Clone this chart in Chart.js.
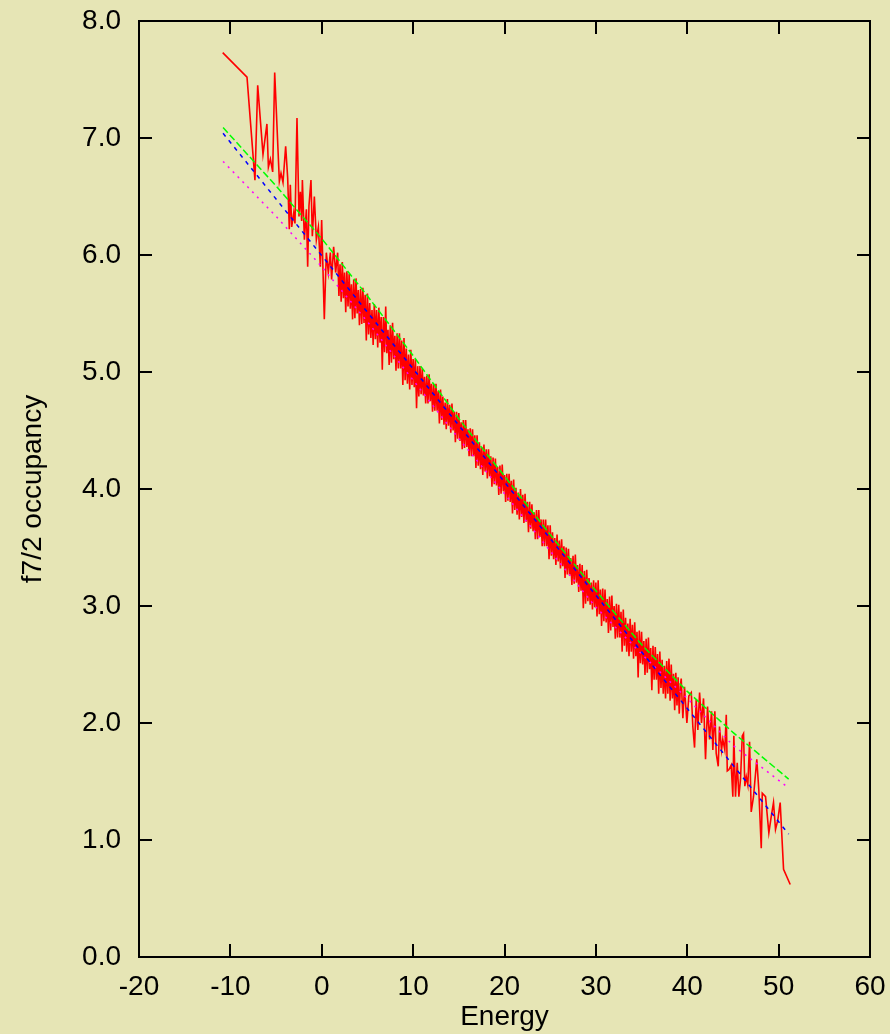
<!DOCTYPE html>
<html>
<head>
<meta charset="utf-8">
<script src="https://cdn.jsdelivr.net/npm/chart.js@4.4.0/dist/chart.umd.min.js"></script>
<style>
  html, body { margin: 0; padding: 0; background: #e6e5b5; }
  #wrap { width: 890px; height: 1034px; }
</style>
</head>
<body>
<div id="wrap"><canvas id="occChart" width="890" height="1034"></canvas></div>
<script>
// tick labels
const xTickValues = [-20, -10, 0, 10, 20, 30, 40, 50, 60];
const yTickValues = [0, 1, 2, 3, 4, 5, 6, 7, 8];
const yTickLabels = ["0.0", "1.0", "2.0", "3.0", "4.0", "5.0", "6.0", "7.0", "8.0"];

// red: measured occupancy vs energy
const redEnergy = [
  -10.84, -8.18, -7.31, -7.01, -6.43, -6.00, -5.84, -5.62, -5.37, -5.15,
  -4.64, -4.46, -4.24, -3.95, -3.73, -3.55, -3.44, -3.29, -3.07, -2.93,
  -2.71, -2.49, -2.34, -2.20, -2.12, -1.90, -1.68, -1.54, -1.40, -1.18,
  -1.03, -0.81, -0.59, -0.37, -0.15, -0.01, 0.28, 0.50, 0.72, 0.94,
  1.08, 1.30, 1.52, 1.74, 1.88,
  2.000, 2.125, 2.250, 2.375, 2.500, 2.625, 2.750, 2.875,
  3.000, 3.125, 3.250, 3.375, 3.500, 3.625, 3.750, 3.875,
  4.000, 4.125, 4.250, 4.375, 4.500, 4.625, 4.750, 4.875,
  5.000, 5.125, 5.250, 5.375, 5.500, 5.625, 5.750, 5.875,
  6.000, 6.125, 6.250, 6.375, 6.500, 6.625, 6.750, 6.875,
  7.000, 7.125, 7.250, 7.375, 7.500, 7.625, 7.750, 7.875,
  8.000, 8.125, 8.250, 8.375, 8.500, 8.625, 8.750, 8.875,
  9.000, 9.125, 9.250, 9.375, 9.500, 9.625, 9.750, 9.875,
  10.000, 10.125, 10.250, 10.375, 10.500, 10.625, 10.750, 10.875,
  11.000, 11.125, 11.250, 11.375, 11.500, 11.625, 11.750, 11.875,
  12.000, 12.125, 12.250, 12.375, 12.500, 12.625, 12.750, 12.875,
  13.000, 13.125, 13.250, 13.375, 13.500, 13.625, 13.750, 13.875,
  14.000, 14.125, 14.250, 14.375, 14.500, 14.625, 14.750, 14.875,
  15.000, 15.125, 15.250, 15.375, 15.500, 15.625, 15.750, 15.875,
  16.000, 16.125, 16.250, 16.375, 16.500, 16.625, 16.750, 16.875,
  17.000, 17.125, 17.250, 17.375, 17.500, 17.625, 17.750, 17.875,
  18.000, 18.125, 18.250, 18.375, 18.500, 18.625, 18.750, 18.875,
  19.000, 19.125, 19.250, 19.375, 19.500, 19.625, 19.750, 19.875,
  20.000, 20.125, 20.250, 20.375, 20.500, 20.625, 20.750, 20.875,
  21.000, 21.125, 21.250, 21.375, 21.500, 21.625, 21.750, 21.875,
  22.000, 22.125, 22.250, 22.375, 22.500, 22.625, 22.750, 22.875,
  23.000, 23.125, 23.250, 23.375, 23.500, 23.625, 23.750, 23.875,
  24.000, 24.125, 24.250, 24.375, 24.500, 24.625, 24.750, 24.875,
  25.000, 25.125, 25.250, 25.375, 25.500, 25.625, 25.750, 25.875,
  26.000, 26.125, 26.250, 26.375, 26.500, 26.625, 26.750, 26.875,
  27.000, 27.125, 27.250, 27.375, 27.500, 27.625, 27.750, 27.875,
  28.000, 28.125, 28.250, 28.375, 28.500, 28.625, 28.750, 28.875,
  29.000, 29.125, 29.250, 29.375, 29.500, 29.625, 29.750, 29.875,
  30.000, 30.125, 30.250, 30.375, 30.500, 30.625, 30.750, 30.875,
  31.000, 31.125, 31.250, 31.375, 31.500, 31.625, 31.750, 31.875,
  32.000, 32.125, 32.250, 32.375, 32.500, 32.625, 32.750, 32.875,
  33.000, 33.125, 33.250, 33.375, 33.500, 33.625, 33.750, 33.875,
  34.000, 34.125, 34.250, 34.375, 34.500, 34.625, 34.750, 34.875,
  35.000, 35.125, 35.250, 35.375, 35.500, 35.625, 35.750, 35.875,
  36.000, 36.125, 36.250, 36.375, 36.500, 36.625, 36.750, 36.875,
  37.000, 37.125, 37.250, 37.375, 37.500, 37.625, 37.750, 37.875,
  38.000, 38.125, 38.250, 38.375, 38.500, 38.625, 38.750, 38.875,
  39.000, 39.125, 39.250,
  39.34, 39.52, 39.70, 39.96, 40.17, 40.44, 40.61, 40.80, 40.98, 41.16,
  41.35, 41.56, 41.78, 42.00, 42.22, 42.44, 42.66, 42.80, 43.02, 43.17,
  43.39, 43.53, 43.75, 43.89, 44.11, 44.27, 44.38, 44.55, 44.81, 44.99,
  45.10, 45.28, 45.47, 45.65, 45.83, 46.02, 46.16, 46.30, 46.46, 46.63,
  46.82, 47.00, 47.25, 47.61, 47.83, 48.10, 48.21, 48.57, 48.93, 49.19,
  49.44, 49.66, 49.91, 50.17, 50.54, 51.27
];
const redOccupancy = [
  7.73, 7.52, 6.64, 7.45, 6.86, 7.12, 6.75, 6.82, 6.71, 7.56,
  6.63, 6.70, 6.62, 6.93, 6.66, 6.22, 6.60, 6.24, 6.36, 6.27,
  7.17, 6.33, 6.54, 6.29, 6.64, 6.13, 6.39, 5.90, 6.42, 6.64,
  6.16, 6.50, 6.13, 6.24, 5.90, 6.30, 5.45, 6.02, 5.85, 6.02,
  5.79, 6.07, 5.85, 6.02, 5.65,
  5.92, 5.60, 5.94, 5.63, 5.85, 5.51, 5.86, 5.56,
  5.84, 5.54, 5.75, 5.45, 5.79, 5.46, 5.80, 5.50,
  5.70, 5.40, 5.71, 5.41, 5.72, 5.42, 5.66, 5.27,
  5.67, 5.32, 5.59, 5.29, 5.53, 5.23, 5.58, 5.28,
  5.53, 5.21, 5.55, 5.25, 5.47, 5.02, 5.47, 5.17,
  5.56, 5.16, 5.36, 5.06, 5.40, 5.08, 5.42, 5.11,
  5.31, 5.01, 5.33, 5.03, 5.33, 5.03, 5.27, 4.89,
  5.29, 4.93, 5.20, 4.90, 5.15, 4.85, 5.19, 4.89,
  5.11, 4.87, 5.11, 4.69, 5.05, 4.79, 5.05, 4.81,
  5.03, 4.80, 4.96, 4.73, 4.97, 4.73, 4.98, 4.75,
  4.90, 4.66, 4.90, 4.67, 4.90, 4.67, 4.84, 4.56,
  4.85, 4.59, 4.79, 4.55, 4.74, 4.51, 4.77, 4.54,
  4.72, 4.48, 4.73, 4.50, 4.66, 4.40, 4.66, 4.43,
  4.65, 4.41, 4.57, 4.34, 4.59, 4.35, 4.59, 4.36,
  4.51, 4.28, 4.52, 4.28, 4.51, 4.28, 4.46, 4.18,
  4.46, 4.20, 4.40, 4.17, 4.36, 4.12, 4.38, 4.15,
  4.34, 4.09, 4.34, 4.11, 4.28, 4.02, 4.27, 4.04,
  4.26, 4.03, 4.19, 3.95, 4.20, 3.96, 4.21, 3.98,
  4.12, 3.89, 4.13, 3.90, 4.13, 3.89, 4.07, 3.79,
  4.08, 3.82, 4.01, 3.78, 3.97, 3.74, 4.00, 3.76,
  3.95, 3.71, 3.96, 3.72, 3.89, 3.63, 3.89, 3.66,
  3.87, 3.64, 3.80, 3.57, 3.82, 3.57, 3.82, 3.59,
  3.74, 3.51, 3.74, 3.51, 3.74, 3.51, 3.69, 3.40,
  3.69, 3.43, 3.63, 3.40, 3.58, 3.35, 3.61, 3.38,
  3.56, 3.32, 3.57, 3.34, 3.51, 3.24, 3.50, 3.27,
  3.49, 3.26, 3.41, 3.18, 3.43, 3.19, 3.44, 3.20,
  3.35, 3.12, 3.36, 3.13, 3.35, 2.98, 3.30, 3.02,
  3.31, 3.04, 3.24, 3.01, 3.20, 2.97, 3.22, 2.99,
  3.20, 2.91, 3.22, 2.93, 3.14, 2.83, 3.15, 2.87,
  3.14, 2.86, 3.06, 2.77, 3.08, 2.79, 3.09, 2.82,
  3.00, 2.72, 3.02, 2.73, 3.01, 2.73, 2.95, 2.61,
  2.97, 2.66, 2.90, 2.61, 2.85, 2.57, 2.89, 2.61,
  2.84, 2.55, 2.86, 2.57, 2.78, 2.39, 2.79, 2.51,
  2.78, 2.50, 2.70, 2.41, 2.72, 2.43, 2.73, 2.46,
  2.64, 2.28, 2.66, 2.37, 2.65, 2.37, 2.59, 2.25,
  2.61, 2.30, 2.54, 2.25, 2.49, 2.21, 2.53, 2.25,
  2.55, 2.19, 2.50, 2.21, 2.42, 2.11, 2.43, 2.15,
  2.39, 2.08, 2.32,
  2.38, 2.04, 2.31, 2.00, 2.23, 2.26, 1.97, 1.79, 2.20, 1.94,
  2.26, 2.00, 2.21, 1.69, 2.14, 1.86, 2.10, 1.77, 2.10, 1.74,
  1.63, 1.97, 1.77, 1.86, 1.77, 2.07, 1.59, 1.60, 1.64, 1.37,
  1.89, 1.37, 1.66, 1.37, 1.52, 1.89, 1.91, 1.46, 1.54, 1.47,
  1.84, 1.24, 1.37, 1.69, 1.43, 0.93, 1.40, 1.37, 1.06, 1.20,
  1.32, 1.09, 1.17, 1.32, 0.75, 0.62
];

// fitted curves
const greenEnergy = [-10.8, -5, 0, 5, 10, 15, 20, 25, 30, 35, 40, 45, 51.1];
const greenOccupancy = [7.09, 6.59, 6.14, 5.65, 5.14, 4.60, 4.11, 3.61, 3.13, 2.67, 2.27, 1.92, 1.52];

const blueEnergy = [-10.8, 51.1];
const blueOccupancy = [7.04, 1.05];

const magentaEnergy = [-10.8, -5, 0, 5, 10, 15, 20, 25, 30, 35, 40, 45, 51.0];
const magentaOccupancy = [6.80, 6.33, 5.90, 5.43, 4.93, 4.43, 3.96, 3.47, 2.99, 2.59, 2.21, 1.81, 1.45];

const toPoints = (xs, ys) => xs.map((x, i) => ({ x: x, y: ys[i] }));

const FONT = { family: "'Liberation Sans', Arial, Helvetica, sans-serif", size: 28 };

// background + gnuplot style frame with inward ticks
const framePlugin = {
  id: "frame",
  beforeDraw(chart) {
    const ctx = chart.ctx;
    ctx.save();
    ctx.fillStyle = "#e6e5b5";
    ctx.fillRect(0, 0, chart.width, chart.height);
    ctx.restore();
  },
  afterDraw(chart) {
    const { ctx, chartArea: a, scales } = chart;
    const tick = 13;
    ctx.save();
    ctx.strokeStyle = "#000";
    ctx.lineWidth = 2;
    ctx.strokeRect(a.left, a.top, a.right - a.left, a.bottom - a.top);
    ctx.beginPath();
    xTickValues.forEach(v => {
      const px = Math.round(scales.x.getPixelForValue(v));
      ctx.moveTo(px, a.bottom); ctx.lineTo(px, a.bottom - tick);
      ctx.moveTo(px, a.top); ctx.lineTo(px, a.top + tick);
    });
    yTickValues.forEach(v => {
      const py = Math.round(scales.y.getPixelForValue(v));
      ctx.moveTo(a.left, py); ctx.lineTo(a.left + tick, py);
      ctx.moveTo(a.right, py); ctx.lineTo(a.right - tick, py);
    });
    ctx.stroke();
    ctx.restore();
  }
};

new Chart(document.getElementById("occChart"), {
  type: "scatter",
  data: {
    datasets: [
      {
        label: "green",
        data: toPoints(greenEnergy, greenOccupancy),
        showLine: true,
        borderColor: "#00ff00",
        borderWidth: 1.5,
        borderDash: [7, 3],
        pointRadius: 0,
        order: 1
      },
      {
        label: "blue",
        data: toPoints(blueEnergy, blueOccupancy),
        showLine: true,
        borderColor: "#0000ff",
        borderWidth: 1.5,
        borderDash: [4, 5],
        pointRadius: 0,
        order: 2
      },
      {
        label: "magenta",
        data: toPoints(magentaEnergy, magentaOccupancy),
        showLine: true,
        borderColor: "#ff00ff",
        borderWidth: 1.5,
        borderDash: [2, 5],
        pointRadius: 0,
        order: 3
      },
      {
        label: "data",
        data: toPoints(redEnergy, redOccupancy),
        showLine: true,
        borderColor: "#ff0000",
        borderWidth: 1.6,
        pointRadius: 0,
        order: 4
      }
    ]
  },
  options: {
    responsive: false,
    animation: false,
    devicePixelRatio: 1,
    layout: { padding: { top: 21, right: 20, left: 0, bottom: 0 } },
    plugins: { legend: { display: false }, tooltip: { enabled: false } },
    elements: { line: { tension: 0 } },
    scales: {
      x: {
        type: "linear",
        min: -20,
        max: 60,
        afterBuildTicks: s => { s.ticks = xTickValues.map(v => ({ value: v })); },
        afterFit: s => { s.height = 77; s.paddingLeft = 0; s.paddingRight = 0; },
        ticks: { font: FONT, color: "#000", padding: 13, maxRotation: 0, autoSkip: false,
                 callback: v => String(v) },
        grid: { display: false, drawTicks: false },
        border: { display: false },
        title: { display: true, text: "Energy", font: FONT, color: "#000", padding: { top: 0, bottom: 0 } }
      },
      y: {
        type: "linear",
        min: 0,
        max: 8,
        afterBuildTicks: s => { s.ticks = yTickValues.map(v => ({ value: v })); },
        afterFit: s => { s.width = 139; s.paddingTop = 0; s.paddingBottom = 0; },
        ticks: { font: FONT, color: "#000", padding: 18, autoSkip: false,
                 callback: (v, i) => yTickLabels[i] },
        grid: { display: false, drawTicks: false },
        border: { display: false },
        title: { display: true, text: "f7/2 occupancy", font: FONT, color: "#000", padding: { top: 16, bottom: 0 } }
      }
    }
  },
  plugins: [framePlugin]
});
</script>
</body>
</html>
